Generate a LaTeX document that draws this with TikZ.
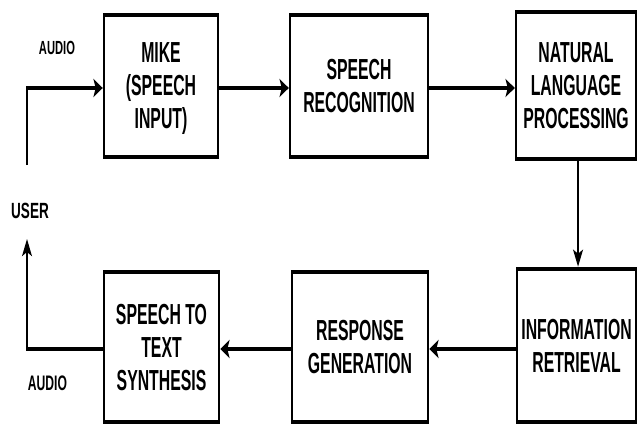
\documentclass[tikz,border=0pt]{standalone}
\usepackage{fontspec}
\setmainfont{Liberation Sans}
\usetikzlibrary{arrows.meta}

% block captions: bold, three-line stack, lowered so the caps sit centred
\newcommand{\boxtext}[1]{\fontsize{29}{33}\selectfont\bfseries
  \raisebox{-3.4pt}[\height][\depth]{\begin{tabular}{@{}c@{}}#1\end{tabular}}}
% small labels: size, extra horizontal stretch, text
\newcommand{\lbltext}[3]{\fontsize{#1}{#1}\selectfont\bfseries\scalebox{#2}[1]{#3}}

\begin{document}
\begin{tikzpicture}[x=1pt,y=-1pt]
  \useasboundingbox (0,0) rectangle (637,425);
  \fill[white] (0,0) rectangle (637,425);

  % the whole drawing is set in a horizontally condensed canvas
  \begin{scope}[transform canvas={xscale=0.545}, x={1pt/0.545},
    block/.style={draw, line width=4.5pt, rectangle, inner sep=0pt, anchor=center},
    flow/.style={line width=3.2pt, -{Stealth[length=17pt,width=18pt,inset=4pt]}},
    lbl/.style={anchor=base, inner sep=0pt}]

    % processing blocks
    \node[block, minimum width={114pt/0.545}, minimum height=142pt] (mike) at (161,86)
      {\boxtext{MIKE\\(SPEECH\\INPUT)}};
    \node[block, minimum width={138pt/0.545}, minimum height=142pt] (sr) at (359,86)
      {\boxtext{SPEECH\\RECOGNITION}};
    \node[block, minimum width={120pt/0.545}, minimum height=147pt] (nlp) at (576,85.5)
      {\boxtext{NATURAL\\LANGUAGE\\PROCESSING}};
    \node[block, minimum width={119pt/0.545}, minimum height=153pt] (info) at (576.5,345.5)
      {\boxtext{INFORMATION\\RETRIEVAL}};
    \node[block, minimum width={136pt/0.545}, minimum height=150pt] (resp) at (360,347)
      {\boxtext{RESPONSE\\GENERATION}};
    \node[block, minimum width={115pt/0.545}, minimum height=150pt] (stt) at (161.5,347)
      {\boxtext{SPEECH TO\\TEXT\\SYNTHESIS}};

    % labels
    \node[lbl] (audioin) at (57,55) {\lbltext{19}{1.08}{AUDIO}};
    \node[lbl] (user) at (30,218) {\lbltext{22}{1.13}{USER}};
    \node[lbl] (audioout) at (47.5,390) {\lbltext{21}{1.06}{AUDIO}};

    % routing helpers
    \coordinate (rowA) at (0,88);
    \coordinate (rowB) at (0,349);
    \coordinate (colX) at (578,0);
    \coordinate (uin) at (27,165);
    \coordinate (uinC) at (27,88);
    \coordinate (uoutC) at (27,349);
    \coordinate (uout) at (27,239);

    % forward path
    \draw[flow] (uin) -- (uinC) -- (mike.west |- rowA);
    \draw[flow] (mike.east |- rowA) -- (sr.west |- rowA);
    \draw[flow] (sr.east |- rowA) -- (nlp.west |- rowA);
    \draw[flow] (nlp.south -| colX) -- (info.north -| colX);

    % return path
    \draw[flow] (info.west |- rowB) -- (resp.east |- rowB);
    \draw[flow] (resp.west |- rowB) -- (stt.east |- rowB);
    \draw[flow] (stt.west |- rowB) -- (uoutC) -- (uout);
  \end{scope}
\end{tikzpicture}
\end{document}
